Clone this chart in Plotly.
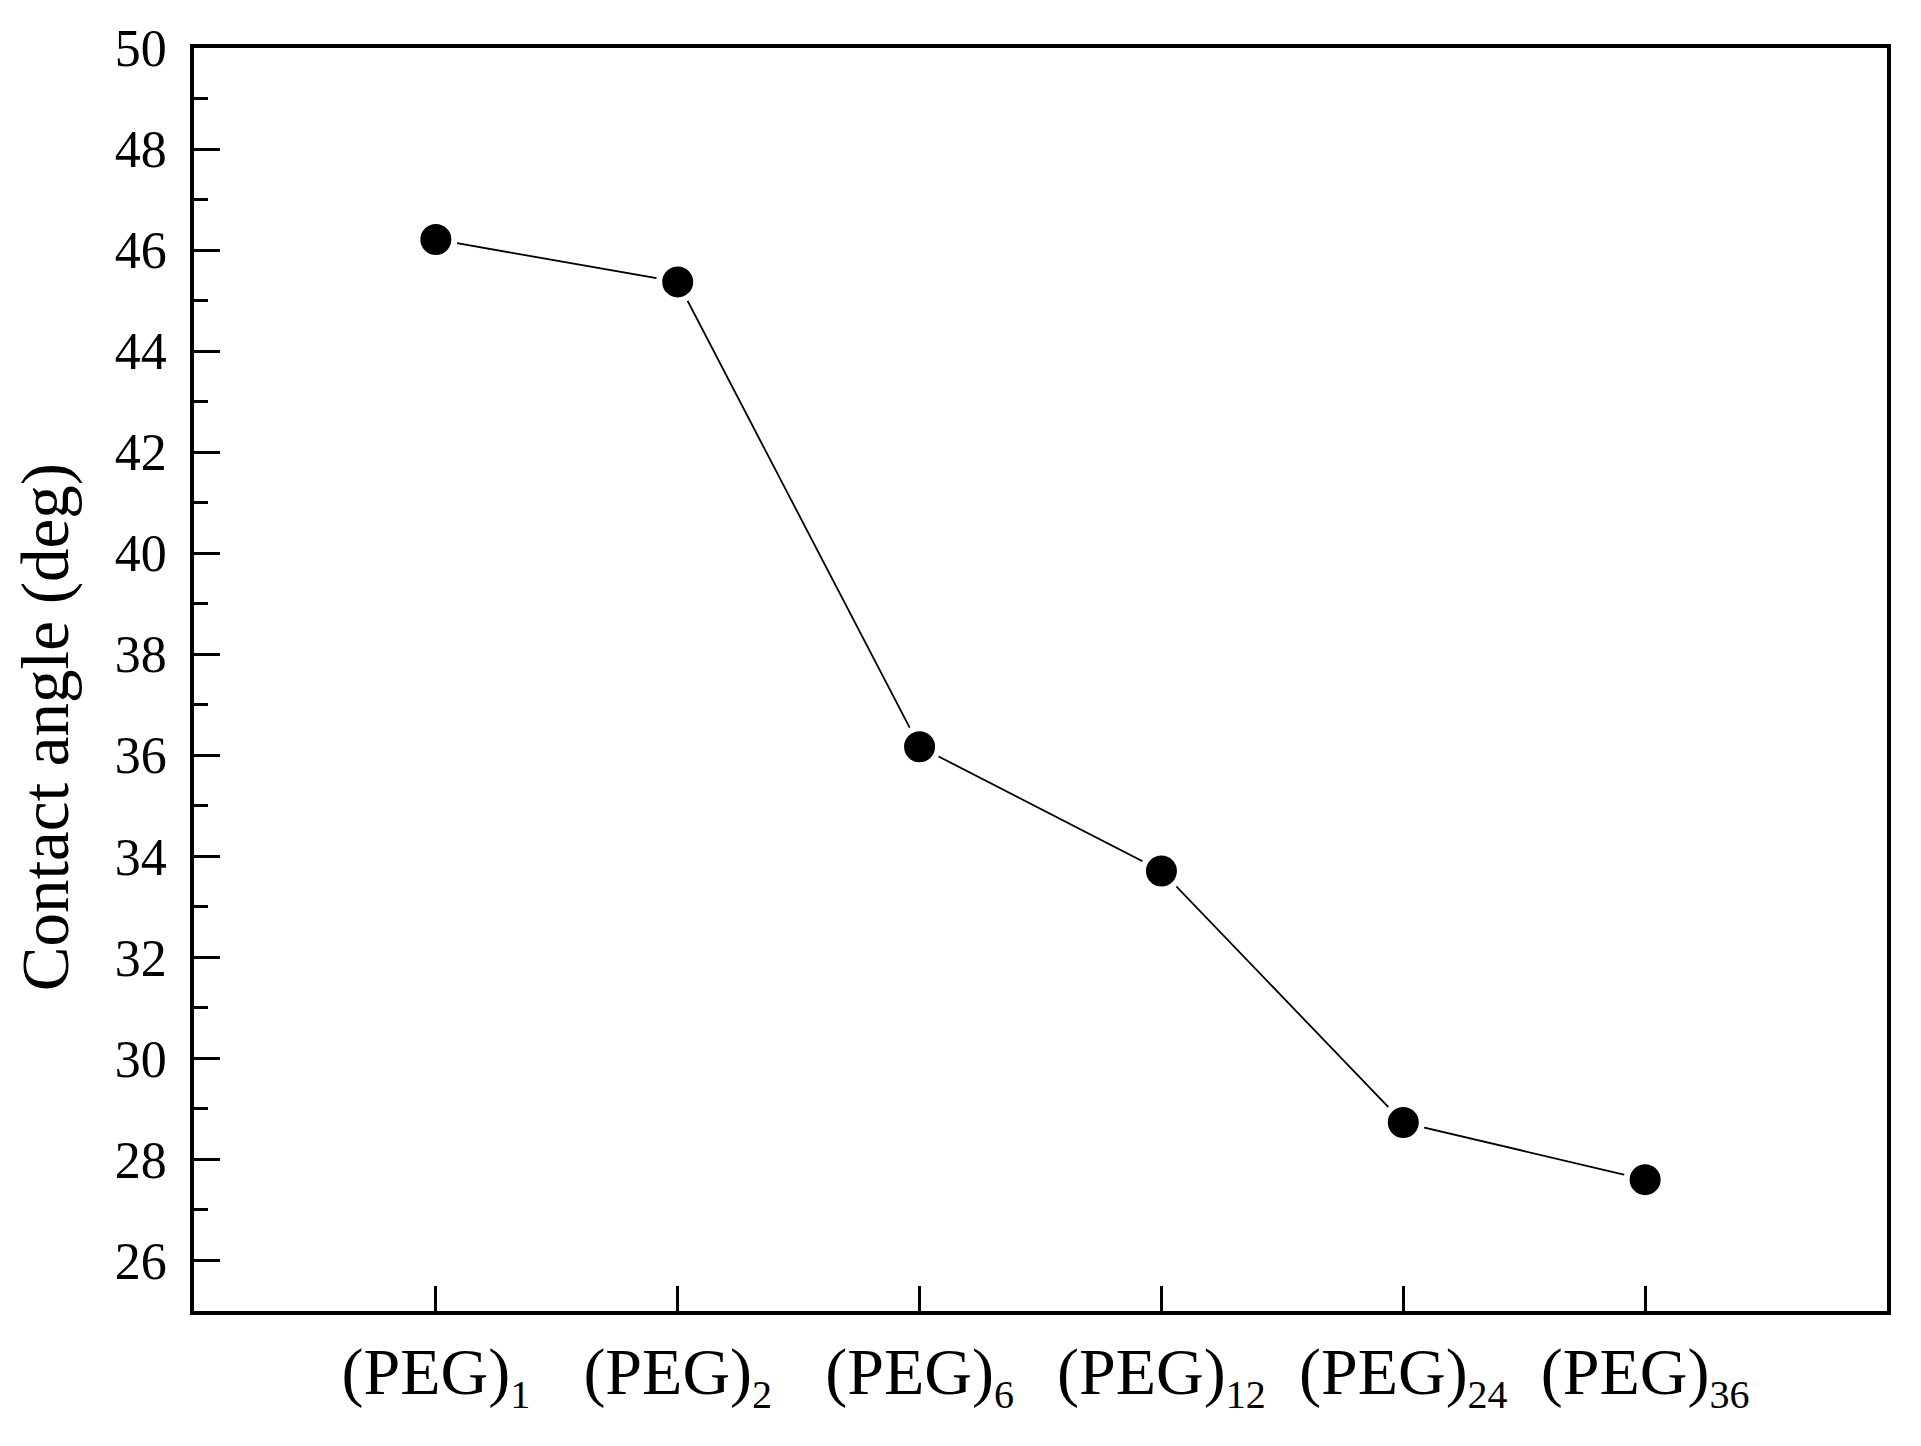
import plotly.graph_objects as go

peg_units = ["1", "2", "6", "12", "24", "36"]
contact_angle = [46.21, 45.37, 36.17, 33.71, 28.73, 27.60]
y_ticks = [26, 28, 30, 32, 34, 36, 38, 40, 42, 44, 46, 48, 50]

categories = ["(PEG)<sub><span style='font-size:40px'>%s</span></sub>" % n for n in peg_units]

FONT = "Liberation Serif, Times New Roman, serif"
# page body has an 8px margin; figure sized to fit within the window
W, H = 1905, 1430
L, R, T, B = 186, 26, 35, 127

x_idx = list(range(len(categories)))

fig = go.Figure()
fig.add_trace(go.Scatter(
    x=x_idx, y=contact_angle, mode="lines+markers",
    line=dict(color="black", width=1.8),
    marker=dict(color="black", size=37, line=dict(color="white", width=6)),
    showlegend=False, hoverinfo="skip",
))

fig.update_layout(
    width=W, height=H,
    margin=dict(l=L, r=R, t=T, b=B, pad=0),
    paper_bgcolor="white", plot_bgcolor="white",
    font=dict(family=FONT, color="black"),
    xaxis=dict(
        range=[-1, 6], tickmode="array", tickvals=x_idx, ticktext=categories,
        ticks="inside", ticklen=25, tickwidth=2.8, tickcolor="black",
        showline=True, linecolor="black", linewidth=3.5, mirror=True,
        showgrid=False, zeroline=False,
        tickfont=dict(family=FONT, size=66, color="black"),
        ticklabelstandoff=0,
    ),
    yaxis=dict(
        range=[25, 50], tickmode="array", tickvals=y_ticks,
        ticktext=[str(v) for v in y_ticks],
        ticks="inside", ticklen=26, tickwidth=3, tickcolor="black",
        minor=dict(ticks="inside", ticklen=14, tickwidth=3, tickcolor="black",
                   dtick=1, tick0=25, showgrid=False),
        showline=True, linecolor="black", linewidth=3.5, mirror=True,
        showgrid=False, zeroline=False,
        tickfont=dict(family=FONT, size=52, color="black"),
        ticklabelstandoff=13,
    ),
)

pw = W - L - R
ph = H - T - B
fig.add_annotation(
    text="Contact angle (deg)", textangle=-90,
    xref="paper", yref="paper",
    x=(37 - L) / pw, y=(H - B - 717) / ph,
    xanchor="center", yanchor="middle", showarrow=False,
    font=dict(family=FONT, size=67, color="black"),
)

fig.write_html("out.html")
